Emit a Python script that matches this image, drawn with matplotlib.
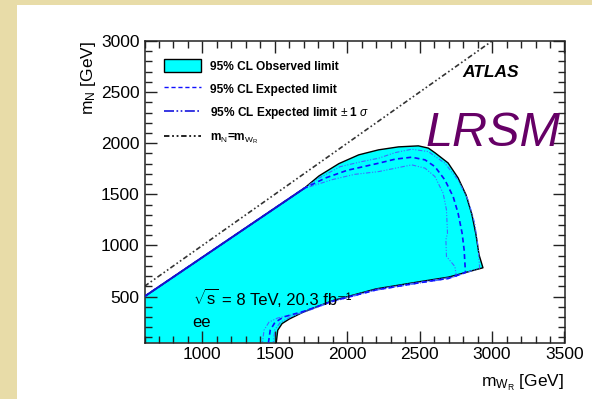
import matplotlib
matplotlib.use("Agg")
import matplotlib.pyplot as plt
from matplotlib.patches import Patch, Rectangle
from matplotlib.lines import Line2D
from matplotlib.ticker import MultipleLocator

plt.rcParams["font.family"] = ["Liberation Sans", "DejaVu Sans"]
plt.rcParams["mathtext.fontset"] = "custom"
plt.rcParams["mathtext.rm"] = "Liberation Sans"
plt.rcParams["mathtext.it"] = "Liberation Sans:italic"
plt.rcParams["mathtext.bf"] = "Liberation Sans:bold"

# --- exclusion contours in the (m_WR, m_N) plane [GeV] ---
# observed limit: diagonal edge, upper curve, right edge, lower edge, notch
obs_mw = [600, 1000, 1400, 1700, 1805, 1942, 2079, 2216, 2353, 2491, 2560, 2607,
          2696, 2765, 2820, 2861, 2889, 2910, 2937,
          2700, 2500, 2200, 1900, 1700, 1600, 1550, 1520, 1510]
obs_mn = [500, 884, 1268, 1556, 1680, 1800, 1886, 1935, 1964, 1974, 1952, 1905,
          1807, 1661, 1495, 1300, 1104, 908, 781,
          690, 645, 575, 460, 350, 280, 235, 170, 50]

# expected limit (median)
exp_mw = [600, 1000, 1400, 1700, 1850, 2000, 2216, 2331, 2445, 2537, 2605, 2674,
          2731, 2765, 2793, 2807, 2816, 2700, 2500, 2200, 1900, 1700, 1560, 1500, 1468, 1456]
exp_mn = [500, 884, 1268, 1556, 1660, 1735, 1804, 1844, 1863, 1837, 1771, 1641,
          1478, 1316, 1120, 957, 735, 678, 635, 565, 455, 355, 300, 245, 170, 50]

# expected limit +1 sigma (outer band edge)
up_mw = [600, 1000, 1400, 1700, 1800, 1950, 2100, 2216, 2331, 2445, 2560, 2674, 2765,
         2834, 2880, 2903, 2914, 2700, 2500, 2200, 1900, 1700, 1520, 1460, 1425, 1415]
up_mn = [500, 884, 1268, 1556, 1655, 1770, 1820, 1853, 1908, 1941, 1918, 1804, 1641,
         1446, 1218, 989, 778, 675, 632, 562, 450, 345, 290, 250, 170, 50]

# expected limit -1 sigma (inner band edge)
dn_mw = [600, 1000, 1400, 1700, 1900, 2050, 2216, 2445, 2537, 2605, 2662, 2685,
         2692, 2681, 2685, 2743, 2754, 2500, 2200, 1900, 1700, 1600, 1540, 1500, 1489]
dn_mn = [500, 884, 1268, 1556, 1645, 1695, 1722, 1788, 1756, 1674, 1511, 1348,
         1120, 1055, 892, 794, 696, 640, 570, 458, 352, 292, 250, 175, 50]

# kinematic boundary m_N = m_WR
diag_mw = [600, 3000]
diag_mn = [600, 3000]

x_ticks = [1000, 1500, 2000, 2500, 3000, 3500]
y_ticks = [500, 1000, 1500, 2000, 2500, 3000]
x_min, x_max = 600, 3500
y_min, y_max = 50, 3000

W, H = 592, 399
DPI = 100
fig = plt.figure(figsize=(W / DPI, H / DPI), dpi=DPI)
fig.patch.set_facecolor("#e8dca8")
fig.add_artist(Rectangle((17 / W, 0), 1 - 17 / W, 1 - 5 / H,
                         transform=fig.transFigure, facecolor="white",
                         edgecolor="none", zorder=-10))

ax = fig.add_axes([144.5 / W, 1 - 342.5 / H, 420 / W, 301.5 / H])
ax.set_xlim(x_min, x_max)
ax.set_ylim(y_min, y_max)

# excluded area closes along the lower-left corner of the frame
ax.fill(obs_mw + [x_min], obs_mn + [y_min], facecolor="#00ffff",
        edgecolor="none", zorder=1)
ax.plot(obs_mw, obs_mn, color="black", lw=1.0, zorder=3)
band_style = (0, (4, 1.5, 1, 1.5, 1, 1.5))
ax.plot(up_mw, up_mn, color="#3f6bff", lw=0.8, ls=band_style, zorder=4)
ax.plot(dn_mw, dn_mn, color="#3f6bff", lw=0.8, ls=band_style, zorder=4)
ax.plot(exp_mw, exp_mn, color="#1010ff", lw=1.2, ls=(0, (3, 2)), zorder=4)
# shared diagonal edge of the expected contours
ax.plot(exp_mw[:4], exp_mn[:4], color="#1515cc", lw=1.4, zorder=5)
diag_style = (0, (3, 1.5, 1, 1.5, 1, 1.5))
ax.plot(diag_mw, diag_mn, color="#333333", lw=1.2, ls=diag_style, zorder=2)

ax.set_xticks(x_ticks)
ax.set_yticks(y_ticks)
ax.xaxis.set_minor_locator(MultipleLocator(100))
ax.yaxis.set_minor_locator(MultipleLocator(100))
ax.tick_params(which="both", direction="in", top=True, right=True,
               width=1.0, color="#222222")
ax.tick_params(which="major", length=8.6, labelsize=12.5)
ax.tick_params(which="minor", length=5.0)
ax.tick_params(axis="y", pad=3.6)
ax.tick_params(axis="x", pad=3.0)
for s in ax.spines.values():
    s.set_linewidth(1.1)
    s.set_color("#222222")

ax.set_xlabel(r"m$_{\mathrm{W}_{\mathrm{R}}}$ [GeV]", fontsize=12.5, loc="right", labelpad=8)
ax.set_ylabel(r"m$_{\mathrm{N}}$ [GeV]", fontsize=12.5, loc="top", labelpad=2)

handles = [
    Patch(facecolor="#00ffff", edgecolor="black", lw=1.0),
    Line2D([], [], color="#1010ff", lw=1.0, ls=(0, (3, 2))),
    Line2D([], [], color="#1515dd", lw=1.2, ls=(0, (6, 1.5, 1, 1.5, 1, 1.5))),
    Line2D([], [], color="#111111", lw=1.3, ls=diag_style),
]
labels = [
    "95% CL Observed limit",
    "95% CL Expected limit",
    r"95% CL Expected limit $\pm$ 1 $\sigma$",
    r"m$_{\mathrm{N}}$=m$_{\mathrm{W}_{\mathrm{R}}}$",
]
leg = ax.legend(handles, labels, loc="upper left", bbox_to_anchor=(0.02, 0.975),
                frameon=False, handlelength=3.1, handleheight=1.3,
                labelspacing=0.78, handletextpad=0.75,
                prop={"weight": "bold", "size": 8.6})

ax.text(0.756, 0.894, "ATLAS", transform=ax.transAxes, fontsize=12.5,
        fontweight="bold", fontstyle="italic", va="center", ha="left")
ax.text(0.668, 0.652, "LRSM", transform=ax.transAxes, fontsize=35,
        fontstyle="italic", color="#660066", va="baseline", ha="left",
        clip_on=False, zorder=6)

# centre-of-mass energy and luminosity: radical drawn with mathtext,
# the rest as plain text following it on the same baseline
sqrt_txt = ax.text(0.115, 0.125, r"$\sqrt{\mathrm{s}}$", transform=ax.transAxes,
                   fontsize=12, va="baseline", ha="left", zorder=6)
fig.canvas.draw()
sqrt_w_pt = sqrt_txt.get_window_extent().width * 72 / DPI
ax.annotate("= 8 TeV, 20.3 fb\u207b\u00b9", xy=(0.115, 0.125),
            xycoords="axes fraction", xytext=(sqrt_w_pt + 2.5, 0),
            textcoords="offset points", fontsize=12, va="baseline",
            ha="left", zorder=6)
ax.text(0.113, 0.065, "ee", transform=ax.transAxes, fontsize=12,
        va="center", ha="left", zorder=6)

fig.savefig("out.png", dpi=DPI, facecolor=fig.get_facecolor())
